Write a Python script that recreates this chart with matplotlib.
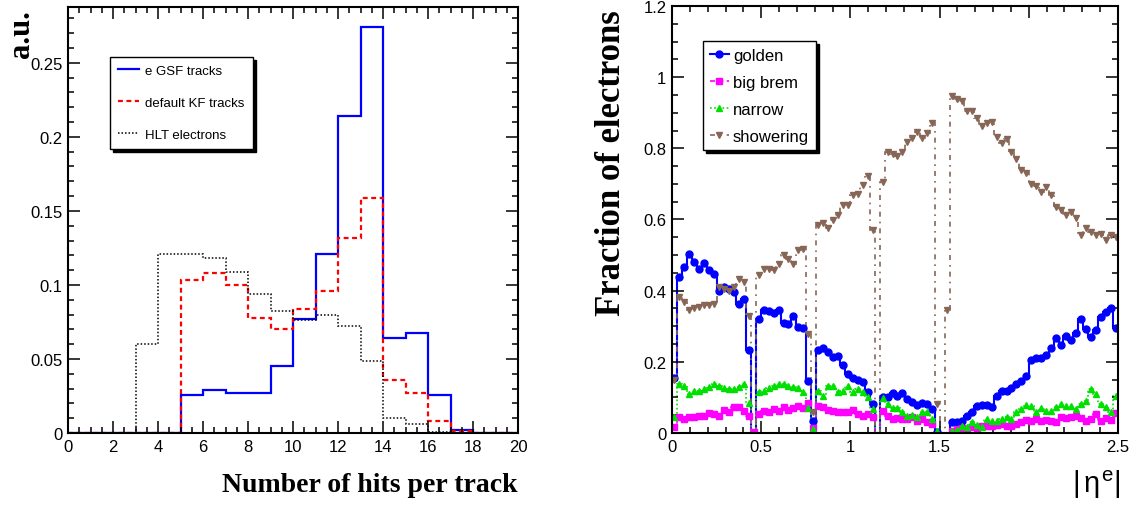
import numpy as np
import matplotlib
matplotlib.use("Agg")
import matplotlib.pyplot as plt
from matplotlib.lines import Line2D
from matplotlib.ticker import MultipleLocator, FormatStrFormatter

# ---------------- Left panel data: number of hits per track ----------------
hit_edges = list(range(0, 21))
gsf_tracks = [0, 0, 0, 0, 0, 0.026, 0.029, 0.027, 0.027, 0.045,
              0.077, 0.121, 0.214, 0.274, 0.064, 0.0676, 0.026, 0.002, 0, 0]
kf_tracks = [0, 0, 0, 0, 0, 0.1036, 0.108, 0.100, 0.078, 0.070,
             0.0838, 0.096, 0.1315, 0.1586, 0.0358, 0.0268, 0.0083, 0.0016, 0, 0]
hlt_electrons = [0, 0, 0, 0.060, 0.1207, 0.1207, 0.1185, 0.109, 0.094, 0.0827,
                 0.0766, 0.0797, 0.0723, 0.0489, 0.0101, 0.006, 0.001, 0, 0, 0]
left_labels = ["e GSF tracks", "default KF tracks", "HLT electrons"]

# ---------------- Right panel data: fraction vs |eta| ----------------
eta_min, eta_max, n_eta = 0.0, 2.5, 90
golden = [0.154, 0.438, 0.467, 0.502, 0.48, 0.462, 0.479, 0.457, 0.448, 0.40,
          0.41, 0.405, 0.396, 0.363, 0.377, 0.232, 0.0, 0.32, 0.345, 0.343,
          0.338, 0.346, 0.31, 0.307, 0.328, 0.298, 0.295, 0.147, 0.034, 0.232,
          0.239, 0.227, 0.213, 0.215, 0.19, 0.166, 0.154, 0.15, 0.143, 0.115,
          0.082, 0.0, 0.10, 0.10, 0.112, 0.105, 0.113, 0.096, 0.086, 0.079,
          0.084, 0.082, 0.068, 0.003, 0.0, 0.0, 0.03, 0.032, 0.035, 0.047,
          0.06, 0.077, 0.079, 0.079, 0.072, 0.105, 0.117, 0.117, 0.126, 0.138,
          0.147, 0.159, 0.204, 0.21, 0.212, 0.218, 0.24, 0.267, 0.246, 0.272,
          0.26, 0.282, 0.321, 0.293, 0.27, 0.29, 0.326, 0.34, 0.352, 0.295]
big_brem = [0.016, 0.044, 0.04, 0.044, 0.046, 0.049, 0.049, 0.055, 0.054, 0.049,
            0.066, 0.06, 0.072, 0.072, 0.061, 0.049, 0.002, 0.054, 0.063, 0.058,
            0.068, 0.063, 0.072, 0.065, 0.07, 0.077, 0.07, 0.084, 0.015, 0.075,
            0.072, 0.066, 0.063, 0.06, 0.06, 0.058, 0.066, 0.054, 0.047, 0.054,
            0.044, 0.0, 0.063, 0.049, 0.04, 0.042, 0.04, 0.04, 0.044, 0.035,
            0.039, 0.03, 0.025, 0.0, 0.0, 0.0, 0.007, 0.011, 0.013, 0.011,
            0.016, 0.013, 0.019, 0.019, 0.021, 0.023, 0.025, 0.021, 0.019, 0.025,
            0.032, 0.037, 0.035, 0.039, 0.035, 0.037, 0.033, 0.03, 0.044, 0.042,
            0.044, 0.047, 0.041, 0.035, 0.039, 0.054, 0.033, 0.041, 0.036, 0.056]
narrow = [0.044, 0.138, 0.133, 0.11, 0.119, 0.119, 0.124, 0.129, 0.138, 0.133,
          0.126, 0.124, 0.124, 0.13, 0.138, 0.085, 0.0, 0.116, 0.119, 0.126,
          0.133, 0.138, 0.138, 0.133, 0.128, 0.126, 0.115, 0.07, 0.011, 0.119,
          0.105, 0.133, 0.133, 0.115, 0.119, 0.133, 0.115, 0.124, 0.115, 0.1,
          0.068, 0.0, 0.098, 0.082, 0.07, 0.07, 0.06, 0.047, 0.05, 0.044,
          0.06, 0.058, 0.039, 0.007, 0.0, 0.0, 0.005, 0.009, 0.019, 0.017,
          0.032, 0.023, 0.018, 0.039, 0.035, 0.035, 0.039, 0.044, 0.04, 0.058,
          0.068, 0.079, 0.077, 0.06, 0.07, 0.063, 0.063, 0.072, 0.082, 0.075,
          0.077, 0.068, 0.082, 0.091, 0.124, 0.11, 0.082, 0.072, 0.058, 0.105]
showering = [0.15, 0.382, 0.368, 0.345, 0.35, 0.354, 0.359, 0.36, 0.363, 0.41,
             0.405, 0.40, 0.41, 0.434, 0.424, 0.33, 0.0, 0.443, 0.46, 0.462,
             0.457, 0.476, 0.5, 0.49, 0.476, 0.514, 0.518, 0.279, 0.06, 0.584,
             0.589, 0.575, 0.598, 0.614, 0.64, 0.64, 0.669, 0.673, 0.697, 0.723,
             0.57, 0.0, 0.704, 0.79, 0.783, 0.779, 0.789, 0.819, 0.83, 0.847,
             0.828, 0.842, 0.87, 0.082, 0.0, 0.345, 0.946, 0.939, 0.933, 0.905,
             0.905, 0.886, 0.864, 0.87, 0.875, 0.833, 0.814, 0.826, 0.79, 0.77,
             0.739, 0.73, 0.699, 0.695, 0.678, 0.692, 0.669, 0.636, 0.626, 0.612,
             0.62, 0.605, 0.556, 0.575, 0.565, 0.556, 0.558, 0.542, 0.556, 0.55]
right_labels = ["golden", "big brem", "narrow", "showering"]

# ---------------- Style ----------------
plt.rcParams["font.family"] = ["Liberation Sans", "DejaVu Sans"]
plt.rcParams["mathtext.fontset"] = "custom"
plt.rcParams["mathtext.rm"] = "Liberation Sans"
plt.rcParams["mathtext.it"] = "Liberation Sans"
plt.rcParams["mathtext.bf"] = "Liberation Sans:bold"

SERIF = ["Liberation Serif", "DejaVu Serif"]
BLUE, RED, MAGENTA, GREEN, BROWN = "#0000ff", "#ff0000", "#ff00ff", "#00e000", "#876656"

fig = plt.figure(figsize=(11.38, 5.06), dpi=100)
W, H = 1138, 506
ax1 = fig.add_axes([68 / W, 72 / H, 450 / W, 426 / H])
ax2 = fig.add_axes([672 / W, 72 / H, 446 / W, 427 / H])


def root_axes(ax):
    for s in ax.spines.values():
        s.set_linewidth(1.5)
    ax.tick_params(which="both", direction="in", top=True, right=True,
                   labelsize=12, width=1.1, pad=4)
    ax.tick_params(which="major", length=8.5)
    ax.tick_params(which="minor", length=4.5)
    ax.xaxis.set_major_formatter(FormatStrFormatter("%g"))
    ax.yaxis.set_major_formatter(FormatStrFormatter("%g"))


# ---------------- Left panel ----------------
ax1.stairs(gsf_tracks, hit_edges, color=BLUE, lw=1.6, baseline=0)
ax1.stairs(kf_tracks, hit_edges, color=RED, lw=1.6, linestyle=(0, (2.2, 1.6)), baseline=0)
ax1.stairs(hlt_electrons, hit_edges, color="black", lw=1.1, linestyle=(0, (1, 1.3)), baseline=0)
ax1.set_xlim(0, 20)
ax1.set_ylim(0, 0.2877)
ax1.xaxis.set_major_locator(MultipleLocator(2))
ax1.xaxis.set_minor_locator(MultipleLocator(0.5))
ax1.yaxis.set_major_locator(MultipleLocator(0.05))
ax1.yaxis.set_minor_locator(MultipleLocator(0.01))
root_axes(ax1)

lh = [Line2D([], [], color=BLUE, lw=1.6),
      Line2D([], [], color=RED, lw=1.6, linestyle=(0, (2.2, 1.6))),
      Line2D([], [], color="black", lw=1.1, linestyle=(0, (1, 1.3)))]
leg1 = ax1.legend(lh, left_labels, loc="upper left", bbox_to_anchor=(0.093, 0.883),
                  borderaxespad=0, fontsize=9.5, handlelength=1.6, handletextpad=0.5,
                  borderpad=0.6, labelspacing=1.5, fancybox=False, framealpha=1,
                  edgecolor="black", shadow={"color": "black", "alpha": 1.0})
leg1.get_frame().set_linewidth(1.0)

ax1.set_xlabel("Number of hits per track", family=SERIF, fontweight="bold",
               fontsize=20, ha="right", va="center")
ax1.xaxis.set_label_coords(1.0, (434 - 486) / 426)
ax1.set_ylabel("a.u.", family=SERIF, fontweight="bold", fontsize=22,
               rotation=90, rotation_mode="anchor", ha="right", va="center")
ax1.yaxis.set_label_coords((22 - 68) / 450, (434 - 10) / 426)

# ---------------- Right panel ----------------
edges = np.linspace(eta_min, eta_max, n_eta + 1)
centers = 0.5 * (edges[:-1] + edges[1:])

series = [
    (golden, BLUE, "-", 1.5, "o", 5.0),
    (big_brem, MAGENTA, (0, (3, 2)), 1.2, "s", 4.2),
    (narrow, GREEN, (0, (1, 1.5)), 1.2, "^", 4.8),
    (showering, BROWN, (0, (3, 3, 1, 3)), 1.2, "v", 4.8),
]
handles = []
for vals, col, ls, lw, mk, ms in series:
    v = np.asarray(vals, dtype=float)
    ax2.stairs(v, edges, color=col, linestyle=ls, lw=lw, baseline=None)
    vm = np.where(v > 0, v, np.nan)
    ax2.plot(centers, vm, ls="none", marker=mk, ms=ms, color=col, mec=col)
    handles.append(Line2D([], [], color=col, linestyle=ls, lw=lw, marker=mk, ms=ms))

ax2.set_xlim(0, 2.5)
ax2.set_ylim(0, 1.2)
ax2.xaxis.set_major_locator(MultipleLocator(0.5))
ax2.xaxis.set_minor_locator(MultipleLocator(0.1))
ax2.yaxis.set_major_locator(MultipleLocator(0.2))
ax2.yaxis.set_minor_locator(MultipleLocator(0.05))
root_axes(ax2)

leg2 = ax2.legend(handles, right_labels, loc="upper left", bbox_to_anchor=(0.0695, 0.918),
                  borderaxespad=0, fontsize=12, handlelength=1.15, handletextpad=0.25,
                  borderpad=0.4, labelspacing=0.72, numpoints=1, fancybox=False,
                  framealpha=1, edgecolor="black", shadow={"color": "black", "alpha": 1.0})
leg2.get_frame().set_linewidth(1.0)

ax2.set_xlabel(r"$|\,\eta^{e}|$", fontsize=21, ha="right", va="center")
ax2.xaxis.set_label_coords(1.005, (434 - 485) / 427)
ax2.set_ylabel("Fraction of electrons", family=SERIF, fontweight="bold", fontsize=25,
               rotation=90, rotation_mode="anchor", ha="right", va="center")
ax2.yaxis.set_label_coords((612 - 672) / 446, (434 - 10) / 427)

fig.savefig("out.png", dpi=100)
